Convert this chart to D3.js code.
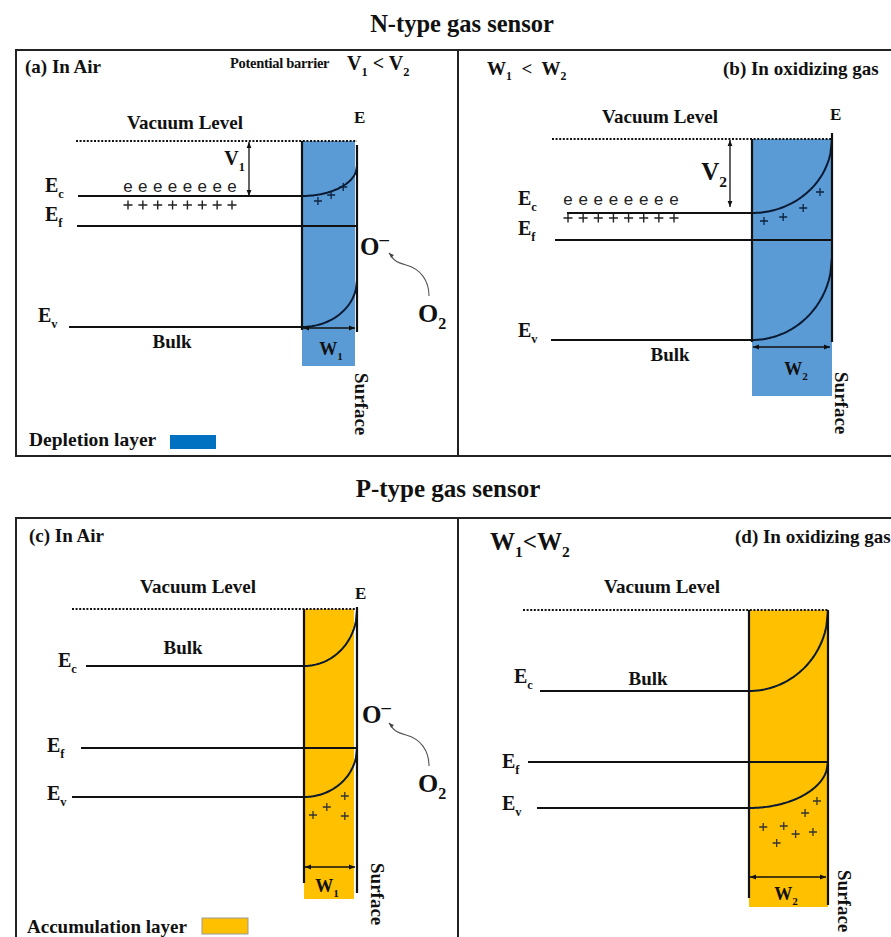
<!DOCTYPE html>
<html><head><meta charset="utf-8">
<script src="https://cdn.jsdelivr.net/npm/d3@7"></script>
<style>body{margin:0;background:#fff}svg{display:block}</style>
</head><body>
<svg id="c" width="891" height="937"></svg>
<script>
// ---------------- data ----------------
const sensorTitles = ["N-type gas sensor", "P-type gas sensor"];
const panelTitles = ["(a) In Air", "(b) In oxidizing gas", "(c) In Air", "(d) In oxidizing gas"];
const layerNames = ["Depletion layer", "Accumulation layer"];
const layerColors = ["#5b9bd5", "#ffc000"];
const legendColors = ["#0070c0", "#ffc000"];
const widthIndex = ["1", "2", "1", "2"];          // W1 / W2
const barrierIndex = ["1", "2", null, null];      // V1 / V2
// energy levels: depth below the vacuum level (arbitrary units)
const ecBulk = [55, 74, 57, 81];
const efBulk = [85, 101, 139, 152];
const evBulk = [186, 201, 188, 198];
const ecSurface = [25, 0, 1, 0];
const evSurface = [139, 118, 139, 152];
const barrierEnd = [55, 68, null, null];
// free electrons / ionised donors in the bulk
const electronCount = [8, 8, 0, 0];
const donorCount = [8, 8, 0, 0];
const electronDepth = [51, 66];
const donorDepth = [64, 79];
// charges in the surface layer: panel, fraction of layer width, depth
const chargePanel = [0, 0, 0, 1, 1, 1, 1, 2, 2, 2, 2, 3, 3, 3, 3, 3, 3, 3];
const chargeFrac  = [0.29, 0.53, 0.75, 0.15, 0.39, 0.64, 0.85, 0.17, 0.43, 0.77, 0.77, 0.86, 0.71, 0.18, 0.44, 0.59, 0.81, 0.35];
const chargeDepth = [60, 54, 46, 82, 78, 69, 53, 206, 198, 187, 207, 191, 203, 217, 216, 224, 222, 233];

// ---------------- layout ----------------
const layout = [
  {vacY:141, x0:302, x1:357, fillR:355, vacL:76, ecL:78, efL:77, evL:69, leftBot:330, rightTop:145, rightBot:332, fillBot:366, wY:328, wR:355,
   ecLab:[45,192], efLab:[45,221], evLab:[38,322], vacLab:[185,129], eLab:[354,123], bulkLab:[172,348], wLab:[331,355], surf:[355,373],
   vX:249, vLab:[245,165], vSize:20, carriers:[128,232], oMinus:[360,255], o2:[418,322]},
  {vacY:139, x0:752, x1:832, fillR:832, vacL:552, ecL:567, efL:555, evL:551, leftBot:342, rightTop:133, rightBot:342, fillBot:396, wY:347, wR:830,
   ecLab:[518,205], efLab:[518,235], evLab:[518,337], vacLab:[660,123], eLab:[830,120], bulkLab:[670,361], wLab:[796,375], surf:[835,372],
   vX:730, vLab:[727,180], vSize:25, carriers:[568,674]},
  {vacY:609, x0:304, x1:357, fillR:354, vacL:72, ecL:86, efL:81, evL:72, leftBot:883, rightTop:607, rightBot:893, fillBot:899, wY:867, wR:355,
   ecLab:[58,667], efLab:[47,752], evLab:[47,800], vacLab:[198,593], eLab:[355,599], bulkLab:[183,654], wLab:[327,892], surf:[371,863],
   oMinus:[362,723], o2:[418,792]},
  {vacY:610, x0:749, x1:828, fillR:828, vacL:523, ecL:540, efL:528, evL:537, leftBot:898, rightTop:610, rightBot:905, fillBot:907, wY:877, wR:826,
   ecLab:[514,683], efLab:[502,768], evLab:[502,810], vacLab:[662,593], eLab:null, bulkLab:[648,685], wLab:[786,900], surf:[838,870]}
];

const svg = d3.select("#c");
const SERIF = "'Liberation Serif','Times New Roman',serif";
const SANS = "'Liberation Sans',Arial,sans-serif";
svg.attr("font-family", SERIF).attr("font-weight", "bold");

// markers
const defs = svg.append("defs");
defs.append("marker").attr("id", "ah").attr("viewBox", "0 0 10 10").attr("refX", 10).attr("refY", 5)
  .attr("markerWidth", 7).attr("markerHeight", 6).attr("markerUnits", "userSpaceOnUse")
  .attr("orient", "auto-start-reverse")
  .append("path").attr("d", "M0,1L10,5L0,9Z").attr("fill", "#111");
defs.append("marker").attr("id", "ahg").attr("viewBox", "0 0 10 10").attr("refX", 10).attr("refY", 5)
  .attr("markerWidth", 6).attr("markerHeight", 5).attr("markerUnits", "userSpaceOnUse")
  .attr("orient", "auto")
  .append("path").attr("d", "M0,1L10,5L0,9Z").attr("fill", "#444");

function rich(sel, x, y, size, parts, anchor) {
  const t = sel.append("text").attr("x", x).attr("y", y).attr("font-size", size)
    .attr("text-anchor", anchor || "start").attr("fill", "#111");
  let shift = 0;
  parts.forEach(([s, kind]) => {
    const target = kind === "sub" ? size * 0.28 : kind === "sup" ? -size * 0.42 : 0;
    const ts = t.append("tspan").text(s).attr("dy", target - shift);
    if (kind === "sub") ts.attr("font-size", size * 0.62);
    if (kind === "sup") ts.attr("font-size", size * 0.75);
    shift = target;
  });
  return t;
}

// titles
svg.append("text").attr("x", 462).attr("y", 32).attr("text-anchor", "middle").attr("font-size", 24.5).attr("fill", "#111").text(sensorTitles[0]);
svg.append("text").attr("x", 448).attr("y", 497).attr("text-anchor", "middle").attr("font-size", 25).attr("fill", "#111").text(sensorTitles[1]);

// frames
const frame = svg.append("g").attr("fill", "none").attr("stroke", "#222").attr("stroke-width", 2);
frame.append("rect").attr("x", 16).attr("y", 50).attr("width", 890).attr("height", 406);
frame.append("line").attr("x1", 458).attr("x2", 458).attr("y1", 50).attr("y2", 456);
frame.append("rect").attr("x", 16).attr("y", 518).attr("width", 890).attr("height", 440);
frame.append("line").attr("x1", 458).attr("x2", 458).attr("y1", 518).attr("y2", 940);

// panels
layout.forEach((L, i) => {
  const g = svg.append("g");
  const y = d3.scaleLinear().domain([0, 100]).range([L.vacY, L.vacY + 100]);
  const xf = d3.scaleLinear().domain([0, 1]).range([L.x0, L.x1]);
  const color = layerColors[i < 2 ? 0 : 1];

  // layer fill
  g.append("rect").attr("x", L.x0).attr("y", y(0)).attr("width", L.fillR - L.x0).attr("height", L.fillBot - y(0)).attr("fill", color);

  // vacuum level
  g.append("line").attr("x1", L.vacL).attr("x2", L.x1).attr("y1", y(0)).attr("y2", y(0))
    .attr("stroke", "#111").attr("stroke-width", 2.2).attr("stroke-dasharray", "2,1.6");

  const band = g.append("g").attr("stroke", "#111").attr("fill", "none").attr("stroke-width", 2);
  // bulk lines
  band.append("line").attr("x1", L.ecL).attr("x2", L.x0).attr("y1", y(ecBulk[i])).attr("y2", y(ecBulk[i]));
  band.append("line").attr("x1", L.efL).attr("x2", L.x1).attr("y1", y(efBulk[i])).attr("y2", y(efBulk[i]));
  band.append("line").attr("x1", L.evL).attr("x2", L.x0).attr("y1", y(evBulk[i])).attr("y2", y(evBulk[i]));
  // band bending (quarter ellipse)
  const ts = d3.range(0, 1.0001, 0.02);
  const bend = (b, s) => d3.line().x(t => xf(t)).y(t => y(b - (b - s) * (1 - Math.sqrt(Math.max(0, 1 - t * t)))))(ts);
  band.append("path").attr("d", bend(ecBulk[i], ecSurface[i])).attr("stroke", "#0a1a33");
  band.append("path").attr("d", bend(evBulk[i], evSurface[i])).attr("stroke", "#0a1a33");

  // layer boundary lines
  const bl = g.append("g").attr("stroke", "#111").attr("stroke-width", 2.2);
  bl.append("line").attr("x1", L.x0).attr("x2", L.x0).attr("y1", y(0)).attr("y2", L.leftBot);
  bl.append("line").attr("x1", L.x1).attr("x2", L.x1).attr("y1", L.rightTop).attr("y2", L.rightBot);

  // width arrow
  g.append("line").attr("x1", L.x0 + 1).attr("x2", L.wR).attr("y1", L.wY).attr("y2", L.wY)
    .attr("stroke", "#111").attr("stroke-width", 1.3)
    .attr("marker-start", "url(#ah)").attr("marker-end", "url(#ah)");
  rich(g, L.wLab[0], L.wLab[1], 18, [["W"], [widthIndex[i], "sub"]], "middle");

  // labels
  rich(g, L.ecLab[0], L.ecLab[1], 20, [["E"], ["c", "sub"]]);
  rich(g, L.efLab[0], L.efLab[1], 20, [["E"], ["f", "sub"]]);
  rich(g, L.evLab[0], L.evLab[1], 20, [["E"], ["v", "sub"]]);
  g.append("text").attr("x", L.vacLab[0]).attr("y", L.vacLab[1]).attr("text-anchor", "middle").attr("font-size", 19).attr("fill", "#111").text("Vacuum Level");
  if (L.eLab) g.append("text").attr("x", L.eLab[0]).attr("y", L.eLab[1]).attr("font-size", 17).attr("fill", "#111").text("E");
  g.append("text").attr("x", L.bulkLab[0]).attr("y", L.bulkLab[1]).attr("text-anchor", "middle").attr("font-size", 19).attr("fill", "#111").text("Bulk");
  g.append("text").attr("transform", `translate(${L.surf[0]},${L.surf[1]}) rotate(90)`).attr("font-size", 19).attr("fill", "#111").text("Surface");

  // barrier arrow
  if (barrierIndex[i]) {
    g.append("line").attr("x1", L.vX).attr("x2", L.vX).attr("y1", y(0) + 1).attr("y2", y(barrierEnd[i]))
      .attr("stroke", "#111").attr("stroke-width", 1.3)
      .attr("marker-start", "url(#ah)").attr("marker-end", "url(#ah)");
    rich(g, L.vLab[0], L.vLab[1], L.vSize, [["V"], [barrierIndex[i], "sub"]], "end");
  }

  // bulk carriers
  if (electronCount[i]) {
    const xc = d3.scaleLinear().domain([0, electronCount[i] - 1]).range(L.carriers);
    g.selectAll(null).data(d3.range(electronCount[i])).join("text")
      .attr("x", d => xc(d)).attr("y", y(electronDepth[i])).attr("text-anchor", "middle")
      .attr("font-family", SANS).attr("font-weight", "normal").attr("font-size", 17).attr("fill", "#222").text("e");
  }
  if (donorCount[i]) {
    const xd = d3.scaleLinear().domain([0, donorCount[i] - 1]).range(L.carriers);
    g.selectAll(null).data(d3.range(donorCount[i])).join("path")
      .attr("transform", d => `translate(${xd(d)},${y(donorDepth[i])})`)
      .attr("d", "M-4.5,0H4.5M0,-4.5V4.5").attr("stroke", "#222").attr("stroke-width", 1.4);
  }

  // surface-layer charges
  const idx = d3.range(chargePanel.length).filter(k => chargePanel[k] === i);
  g.selectAll(null).data(idx).join("path")
    .attr("transform", k => `translate(${xf(chargeFrac[k])},${y(chargeDepth[k])})`)
    .attr("d", "M-4,0H4M0,-4V4").attr("stroke", i < 2 ? "#0d2340" : "#333").attr("stroke-width", 1.3);

  // oxygen adsorption
  if (L.oMinus) {
    rich(g, L.oMinus[0], L.oMinus[1], 25, [["O"], ["\u2013", "sup"]]);
    rich(g, L.o2[0], L.o2[1], 26, [["O"], ["2", "sub"]]);
    const sx = L.o2[0] + 11, sy = L.o2[1] - 26;
    g.append("path")
      .attr("d", `M${sx},${sy}C${sx},${sy - 15} ${sx - 8},${sy - 27} ${sx - 23},${sy - 31}S${sx - 36},${sy - 39} ${sx - 40},${sy - 43}`)
      .attr("fill", "none").attr("stroke", "#555").attr("stroke-width", 1.1).attr("marker-end", "url(#ahg)");
  }
});

// panel headings
rich(svg, 25, 73, 19, [[panelTitles[0]]]);
svg.append("text").attr("x", 230).attr("y", 68).attr("font-size", 14.5).attr("fill", "#111").attr("letter-spacing", -0.3).text("Potential barrier");
rich(svg, 347, 70, 20, [["V"], ["1", "sub"], [" < "], ["V"], ["2", "sub"]]);
rich(svg, 487, 75, 19, [["W"], ["1", "sub"], ["  <  "], ["W"], ["2", "sub"]]).attr("xml:space", "preserve");
rich(svg, 723, 75, 19, [[panelTitles[1]]]);
rich(svg, 29, 542, 19, [[panelTitles[2]]]);
rich(svg, 490, 550, 25, [["W"], ["1", "sub"], ["<"], ["W"], ["2", "sub"]]);
rich(svg, 735, 543, 19, [[panelTitles[3]]]);

// legends
svg.append("text").attr("x", 29).attr("y", 446).attr("font-size", 19.5).attr("fill", "#111").text(layerNames[0]);
svg.append("rect").attr("x", 170).attr("y", 435).attr("width", 46).attr("height", 14).attr("fill", legendColors[0]);
svg.append("text").attr("x", 27).attr("y", 933).attr("font-size", 19).attr("fill", "#111").text(layerNames[1]);
svg.append("rect").attr("x", 202).attr("y", 918).attr("width", 46).attr("height", 16).attr("fill", legendColors[1]).attr("stroke", "#999").attr("stroke-width", 1);
</script>
</body></html>
